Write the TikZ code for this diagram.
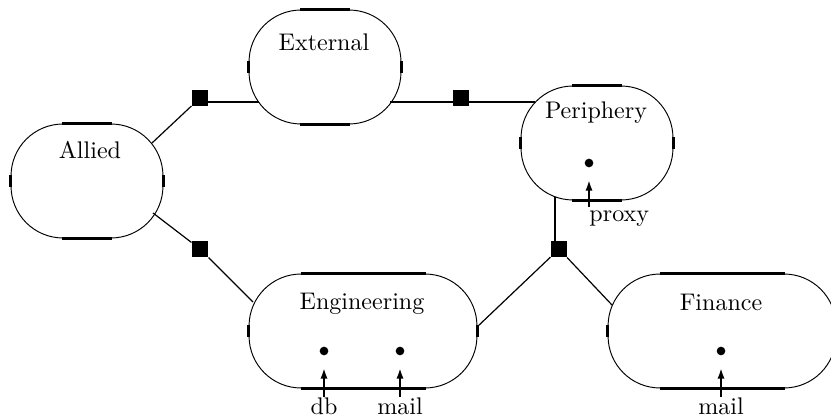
\documentclass[tikz,border=0pt]{standalone}
\usetikzlibrary{arrows.meta}

\begin{document}
\begin{tikzpicture}[x=0.416pt, y=-0.416pt,
    site/.style={draw, line width=0.4pt, rounded corners=21.6pt, minimum height=47.4pt, inner sep=0pt},
    side/.style={line width=1.25pt},
    link/.style={line width=0.5pt},
    router/.style={fill, inner sep=0pt, minimum size=6.7pt},
    host/.style={circle, fill, inner sep=0pt, minimum size=3.6pt},
    port/.style={line width=1.1pt, -{Latex[length=4.5pt,width=3pt]}, shorten >=5pt}]
    \useasboundingbox (0,0) rectangle (831,419);

    % sites
    \begin{scope}
        \node[site, minimum width=63.2pt] (allied) at (87,181) {};
        \draw[side] ([xshift=21.6pt]allied.north west) -- ([xshift=-21.6pt]allied.north east)
                    ([xshift=21.6pt]allied.south west) -- ([xshift=-21.6pt]allied.south east)
                    ([yshift=-21.6pt]allied.north west) -- ([yshift=21.6pt]allied.south west)
                    ([yshift=-21.6pt]allied.north east) -- ([yshift=21.6pt]allied.south east);
        \node[anchor=base] (allied-name) at (90,159) {Allied};

        \node[site, minimum width=63.2pt] (external) at (325,67) {};
        \draw[side] ([xshift=21.6pt]external.north west) -- ([xshift=-21.6pt]external.north east)
                    ([xshift=21.6pt]external.south west) -- ([xshift=-21.6pt]external.south east)
                    ([yshift=-21.6pt]external.north west) -- ([yshift=21.6pt]external.south west)
                    ([yshift=-21.6pt]external.north east) -- ([yshift=21.6pt]external.south east);
        \node[anchor=base] (external-name) at (324,51) {External};

        \node[site, minimum width=63.2pt] (periphery) at (597,143) {};
        \draw[side] ([xshift=21.6pt]periphery.north west) -- ([xshift=-21.6pt]periphery.north east)
                    ([xshift=21.6pt]periphery.south west) -- ([xshift=-21.6pt]periphery.south east)
                    ([yshift=-21.6pt]periphery.north west) -- ([yshift=21.6pt]periphery.south west)
                    ([yshift=-21.6pt]periphery.north east) -- ([yshift=21.6pt]periphery.south east);
        \node[anchor=base] (periphery-name) at (596,119) {Periphery};

        \node[site, minimum width=94.8pt] (engineering) at (363,331) {};
        \draw[side] ([xshift=21.6pt]engineering.north west) -- ([xshift=-21.6pt]engineering.north east)
                    ([xshift=21.6pt]engineering.south west) -- ([xshift=-21.6pt]engineering.south east)
                    ([yshift=-21.6pt]engineering.north west) -- ([yshift=21.6pt]engineering.south west)
                    ([yshift=-21.6pt]engineering.north east) -- ([yshift=21.6pt]engineering.south east);
        \node[anchor=base] (engineering-name) at (362,309) {Engineering};

        \node[site, minimum width=94.8pt] (finance) at (722,331) {};
        \draw[side] ([xshift=21.6pt]finance.north west) -- ([xshift=-21.6pt]finance.north east)
                    ([xshift=21.6pt]finance.south west) -- ([xshift=-21.6pt]finance.south east)
                    ([yshift=-21.6pt]finance.north west) -- ([yshift=21.6pt]finance.south west)
                    ([yshift=-21.6pt]finance.north east) -- ([yshift=21.6pt]finance.south east);
        \node[anchor=base] (finance-name) at (721,310) {Finance};
    \end{scope}

    % routers and links
    \node[router] (r1) at (200,98) {};
    \node[router] (r2) at (461,98) {};
    \node[router] (r3) at (200,249) {};
    \node[router] (r4) at (559,249) {};

    \coordinate (allied-ne) at (152,143);
    \coordinate (allied-se) at (153,213);
    \coordinate (external-w) at (259,102);
    \coordinate (external-e) at (390,102);
    \coordinate (periphery-w) at (535,102);
    \coordinate (periphery-s) at (555,197);
    \coordinate (engineering-nw) at (253,302);
    \coordinate (engineering-e) at (477,327);
    \coordinate (finance-nw) at (612,305);

    \draw[link] (allied-ne) -- (r1);
    \draw[link, line width=0.6pt] (r1 |- external-w) -- (external-w);
    \draw[link, line width=0.6pt] (external-e) -- (r2 |- external-e);
    \draw[link, line width=0.6pt] (r2 |- periphery-w) -- (periphery-w);
    \draw[link] (allied-se) -- (r3);
    \draw[link] (r3) -- (engineering-nw);
    \draw[link] (engineering-e) -- (r4);
    \draw[link] (r4) -- (finance-nw);
    \draw[link, line width=0.7pt] (periphery-s) -- (periphery-s |- r4);

    % services
    \node[host] (proxy) at (589,163) {};
    \node[host] (db) at (324,351) {};
    \node[host] (eng-mail) at (400,351) {};
    \node[host] (fin-mail) at (721,351) {};

    \coordinate (proxy-port) at (589,207);
    \coordinate (db-port) at (324,397);
    \coordinate (eng-mail-port) at (400,397);
    \coordinate (fin-mail-port) at (721,397);

    \draw[port] (proxy-port) -- (proxy);
    \draw[port] (db-port) -- (db);
    \draw[port] (eng-mail-port) -- (eng-mail);
    \draw[port] (fin-mail-port) -- (fin-mail);

    \node[anchor=base west, inner sep=0pt] (proxy-name) at (589,222) {proxy};
    \node[anchor=base] (db-name) at (324,414) {db};
    \node[anchor=base] (eng-mail-name) at (400,414) {mail};
    \node[anchor=base] (fin-mail-name) at (721,414) {mail};

\end{tikzpicture}
\end{document}
